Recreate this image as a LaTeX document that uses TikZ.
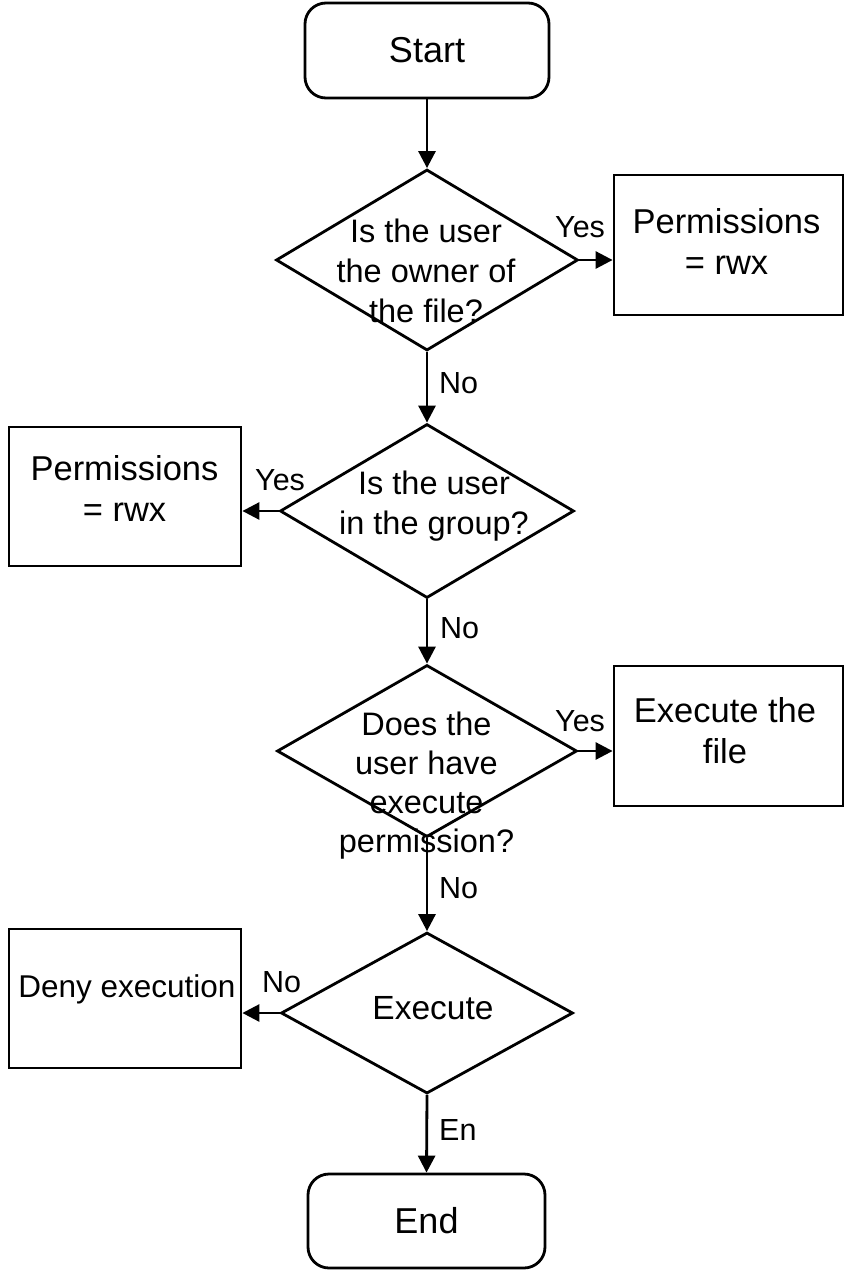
\documentclass[tikz,border=0pt]{standalone}
\usepackage{fontspec}
\setmainfont{Liberation Sans}
\usetikzlibrary{shapes.geometric}
\usetikzlibrary{arrows.meta}

\begin{document}
\begin{tikzpicture}[x=1pt,y=-1pt,
  terminal/.style={draw, rounded corners=21pt, line width=2.8pt, inner sep=0pt,
    font=\fontsize{36}{40}\selectfont},
  decision/.style={draw, diamond, line width=2.8pt, inner sep=0pt},
  stepbox/.style={draw, rectangle, line width=2.8pt, inner sep=0pt},
  qtext/.style={align=center, inner sep=0pt, anchor=north, font=\fontsize{32.5}{40}\selectfont},
  btext/.style={align=center, inner sep=0pt, anchor=north, font=\fontsize{34.5}{41}\selectfont},
  answer/.style={inner sep=0pt, anchor=base west, font=\fontsize{30.5}{36}\selectfont},
  flow/.style={line width=2.8pt, -{Triangle[length=17pt,width=17pt]}}]
  \useasboundingbox (0,0) rectangle (853,1280);

  % Start
  \node[terminal, minimum width=244pt, minimum height=95pt] (start) at (427,50.5) {Start};

  % Owner
  \node[decision, minimum width=302pt, minimum height=181pt] (owner) at (427,260) {};
  \node[qtext] (ownertext) at (426,218.6) {Is the user\\the owner of\\the file?};
  \node[stepbox, minimum width=229pt, minimum height=140pt] (ownerperm) at (728.5,245) {};
  \node[btext] (ownerpermtext) at (726.5,208.2) {Permissions\\= rwx};

  % Group
  \node[decision, minimum width=294pt, minimum height=174pt] (group) at (427,511) {};
  \node[qtext] (grouptext) at (434,470.6) {Is the user\\in the group?};
  \node[stepbox, minimum width=232pt, minimum height=139pt] (groupperm) at (125,496.5) {};
  \node[btext] (grouppermtext) at (124.5,455.2) {Permissions\\= rwx};

  % Execute permission
  \node[decision, minimum width=300pt, minimum height=172pt] (xperm) at (427,751) {};
  \node[qtext, font=\fontsize{32.5}{39}\selectfont] (xpermtext) at (426.5,711.6)
    {Does the\\user have\\execute\\permission?};
  \node[stepbox, minimum width=229pt, minimum height=140pt] (runfile) at (728.5,736) {};
  \node[btext] (runfiletext) at (725,697.2) {Execute the\\file};

  % Execute
  \node[decision, minimum width=292pt, minimum height=161pt] (execute) at (427,1013) {};
  \node[inner sep=0pt, anchor=base, font=\fontsize{33.5}{40}\selectfont] (executetext)
    at (433,1019) {Execute};
  \node[stepbox, minimum width=232pt, minimum height=139pt] (deny) at (125,998.5) {};
  \node[inner sep=0pt, anchor=base, font=\fontsize{31.5}{40}\selectfont] (denytext)
    at (127,997) {Deny execution};

  % End
  \node[terminal, minimum width=237pt, minimum height=94pt] (stop) at (426.5,1221) {End};

  % Arrows
  \draw[flow] (start.south) -- (owner.north);
  \draw[flow] (owner.east) -- (owner.east -| ownerperm.west);
  \draw[flow] (owner.south) -- (group.north);
  \draw[flow] (group.west) -- (group.west -| groupperm.east);
  \draw[flow] (group.south) -- (xperm.north);
  \draw[flow] (xperm.east) -- (xperm.east -| runfile.west);
  \draw[flow] (xperm.south) -- (execute.north);
  \draw[flow] (execute.west) -- (execute.west -| deny.east);
  \draw[flow] (execute.south) -- (stop.north);

  % Answers
  \node[answer] (yes1) at (555,237) {Yes};
  \node[answer] (no1) at (439,393) {No};
  \node[answer] (yes2) at (255,490) {Yes};
  \node[answer] (no2) at (440,638) {No};
  \node[answer] (yes3) at (555,731) {Yes};
  \node[answer] (no3) at (439,898) {No};
  \node[answer] (no4) at (262,992) {No};
  \node[answer] (en) at (439,1140) {En};
\end{tikzpicture}
\end{document}
